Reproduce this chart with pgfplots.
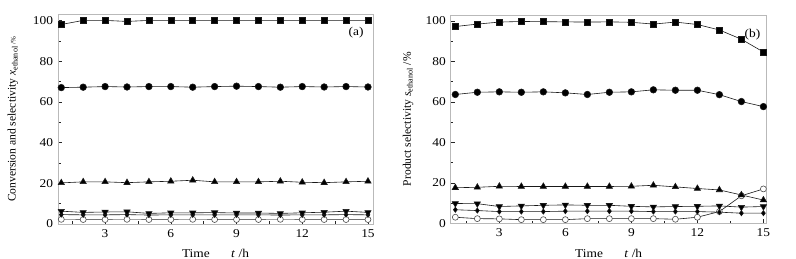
\documentclass[border=0pt]{standalone}
\usepackage{fontspec}
\setmainfont{Liberation Serif}
\usepackage{pgfplots}
\pgfplotsset{compat=1.18}
\pgfplotsset{
  panel/.style={
    scale only axis, anchor=south west,
    ymin=0, ymax=103,
    xtick={3,6,9,12,15},
    minor xtick={1.5,4.5,7.5,10.5,13.5},
    ytick={0,20,40,60,80,100},
    minor ytick={10,30,50,70,90},
    xtick pos=lower, ytick pos=left,
    tick align=inside,
    major tick length=4bp, minor tick length=2.5bp,
    tick style={black!85, line width=0.5pt},
    axis line style={gray!55, line width=0.9pt},
    font=\fontsize{12}{14}\selectfont,
    /pgf/number format/assume math mode=true,
    xticklabel style={yshift=-2bp, xscale=1.12},
    yticklabel style={xshift=-1bp, xscale=1.12},
    every axis plot/.append style={black!90, line width=0.6pt},
  },
  sq/.style={mark=square*, mark size=3bp, mark options={solid, fill=black}},
  ci/.style={mark=*, mark size=3.3bp, mark options={solid, fill=black}},
  tu/.style={mark=triangle*, mark size=3.6bp, mark options={solid, fill=black}},
  td/.style={mark=triangle*, mark size=3.6bp, mark options={solid, fill=black, rotate=180}},
  di/.style={mark=diamond*, mark size=2.6bp, mark options={solid, fill=black}},
  oc/.style={mark=*, mark size=3bp, mark options={solid, fill=white, draw=black!70}},
}
\begin{document}
\begin{tikzpicture}
\path[use as bounding box] (0bp,0bp) rectangle (796bp,259bp);
% ---------------- panel (a)
\begin{axis}[panel, at={(58bp,35bp)}, width=315bp, height=209.7bp,
  xmin=0.85, xmax=15.23,
  xlabel={Time\hspace{1.6em}\textit{t} /h},
  xlabel style={at={(axis description cs:0.5,-0.14)}, anchor=center, xscale=1.12},
  ylabel={Conversion and selectivity \textit{x}\textsubscript{ethanol}\,{\fontsize{7}{8}\selectfont /\%}},
  ylabel style={at={(axis description cs:-0.143,0.5)}, anchor=center, font=\fontsize{11.6}{13}\selectfont},
]
\addplot[oc, black!55] coordinates {(1,2.3)(2,2.2)(3,2.2)(4,2.3)(5,2.2)(6,2.2)(7,2.3)(8,2.2)(9,2.2)(10,2.2)(11,2.3)(12,2.2)(13,2.2)(14,2.2)(15,2.2)};
\addplot[di] coordinates {(1,4.6)(2,4.5)(3,4.5)(4,4.6)(5,4.4)(6,4.5)(7,4.5)(8,4.5)(9,4.5)(10,4.5)(11,4.4)(12,4.5)(13,4.5)(14,4.6)(15,4.5)};
\addplot[td] coordinates {(1,6.3)(2,5.7)(3,5.9)(4,6.0)(5,5.2)(6,5.5)(7,5.5)(8,5.6)(9,5.4)(10,5.4)(11,5.2)(12,5.5)(13,5.8)(14,6.3)(15,5.7)};
\addplot[tu] coordinates {(1,20.2)(2,20.7)(3,20.7)(4,20.3)(5,20.7)(6,21.0)(7,21.5)(8,20.7)(9,20.7)(10,20.7)(11,21.0)(12,20.5)(13,20.3)(14,20.7)(15,21.0)};
\addplot[ci] coordinates {(1,67.0)(2,67.2)(3,67.5)(4,67.3)(5,67.5)(6,67.5)(7,67.2)(8,67.5)(9,67.7)(10,67.5)(11,67.2)(12,67.5)(13,67.3)(14,67.5)(15,67.3)};
\addplot[sq] coordinates {(1,98.0)(2,100)(3,100)(4,99.5)(5,100)(6,100)(7,100)(8,100)(9,100)(10,100)(11,100)(12,100)(13,100)(14,100)(15,100)};
\node[xscale=1.12] at (axis cs:14.46,93.8) {(a)};
\end{axis}
% ---------------- panel (b)
\begin{axis}[panel, at={(450.7bp,35.7bp)}, width=316bp, height=208.3bp,
  xmin=0.79, xmax=15.15,
  xlabel={Time\hspace{1.6em}\textit{t} /h},
  xlabel style={at={(axis description cs:0.5,-0.145)}, anchor=center, xscale=1.12},
  ylabel={Product selectivity \textit{s}\textsubscript{ethanol} /\%},
  ylabel style={at={(axis description cs:-0.135,0.5)}, anchor=center, font=\fontsize{11.6}{13}\selectfont},
]
\addplot[oc] coordinates {(1,3.0)(2,2.3)(3,2.2)(4,1.8)(5,1.8)(6,1.8)(7,2.3)(8,2.3)(9,2.3)(10,2.3)(11,2.0)(12,3.0)(13,5.8)(14,13.6)(15,17.0)};
\addplot[di] coordinates {(1,6.7)(2,6.3)(3,5.8)(4,5.8)(5,5.8)(6,6.0)(7,6.0)(8,6.0)(9,6.0)(10,5.8)(11,5.8)(12,5.8)(13,5.5)(14,5.0)(15,5.0)};
\addplot[td] coordinates {(1,9.8)(2,9.7)(3,8.3)(4,8.6)(5,8.9)(6,9.1)(7,8.9)(8,8.9)(9,8.4)(10,8.1)(11,8.3)(12,8.4)(13,8.6)(14,8.0)(15,8.3)};
\addplot[tu] coordinates {(1,17.6)(2,17.8)(3,18.3)(4,18.2)(5,18.2)(6,18.2)(7,18.2)(8,18.2)(9,18.3)(10,18.8)(11,18.0)(12,17.2)(13,16.5)(14,14.0)(15,11.5)};
\addplot[ci] coordinates {(1,63.7)(2,64.8)(3,65.0)(4,64.8)(5,65.0)(6,64.5)(7,63.7)(8,64.8)(9,65.0)(10,66.0)(11,65.8)(12,65.8)(13,63.6)(14,60.2)(15,57.7)};
\addplot[sq] coordinates {(1,97.3)(2,98.5)(3,99.5)(4,99.8)(5,99.7)(6,99.6)(7,99.5)(8,99.6)(9,99.4)(10,98.5)(11,99.5)(12,98.3)(13,95.6)(14,91.0)(15,84.7)};
\node[xscale=1.12] at (axis cs:14.5,93.2) {(b)};
\end{axis}
\end{tikzpicture}
\end{document}
